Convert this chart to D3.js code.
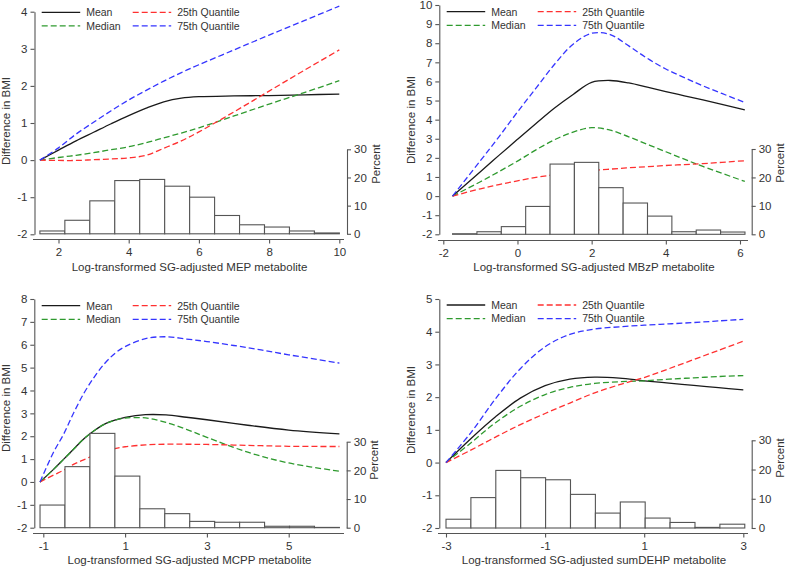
<!DOCTYPE html>
<html>
<head>
<meta charset="utf-8">
<script src="https://cdn.jsdelivr.net/npm/d3@7/dist/d3.min.js"></script>
<style>
  html, body { margin: 0; padding: 0; background: #fff; }
  svg { display: block; font-family: "Liberation Sans", Arial, sans-serif; }
</style>
</head>
<body>
<svg id="chart" width="800" height="577"></svg>
<script>
// ---------------- DATA ----------------
const seriesNames = ["Mean", "Median", "25th Quantile", "75th Quantile"];
const pctTicks = [0, 10, 20, 30];

// Panel A: MEP
const mepTitle = "Log-transformed SG-adjusted MEP metabolite";
const mepXTicks = [2, 4, 6, 8, 10];
const mepYTicks = [-2, -1, 0, 1, 2, 3, 4];
const mepX      = [1.47, 2, 2.5, 3, 3.5, 4, 4.5, 5, 5.5, 6, 7, 8, 9, 10];
const mepMean   = [0, 0.27, 0.52, 0.75, 0.98, 1.2, 1.4, 1.57, 1.67, 1.71, 1.73, 1.74, 1.76, 1.78];
const mepMedian = [0, 0.07, 0.13, 0.2, 0.28, 0.36, 0.47, 0.6, 0.73, 0.87, 1.19, 1.51, 1.82, 2.14];
const mepQ25    = [0, -0.01, -0.01, 0.01, 0.03, 0.06, 0.13, 0.32, 0.52, 0.76, 1.3, 1.86, 2.42, 2.97];
const mepQ75    = [0, 0.33, 0.7, 1.02, 1.33, 1.62, 1.88, 2.13, 2.36, 2.57, 2.97, 3.37, 3.76, 4.15];
const mepBinStart = 1.47, mepBinWidth = 0.711;
const mepPct    = [1, 4.8, 11.7, 18.9, 19.3, 16.9, 13, 6.5, 3.2, 2.4, 1, 0.3];

// Panel B: MBzP
const mbzpTitle = "Log-transformed SG-adjusted MBzP metabolite";
const mbzpXTicks = [-2, 0, 2, 4, 6];
const mbzpYTicks = [-2, -1, 0, 1, 2, 3, 4, 5, 6, 7, 8, 9, 10];
const mbzpX      = [-1.75, -1, -0.5, 0, 0.5, 1, 1.5, 2, 2.5, 3, 3.5, 4, 4.5, 5, 6.13];
const mbzpMean   = [0, 1.27, 2.13, 2.97, 3.8, 4.61, 5.32, 5.95, 6.05, 5.92, 5.7, 5.47, 5.25, 5.03, 4.51];
const mbzpMedian = [0, 0.75, 1.28, 1.83, 2.42, 2.95, 3.35, 3.58, 3.45, 3.1, 2.71, 2.32, 1.93, 1.55, 0.77];
const mbzpQ25    = [0, 0.38, 0.6, 0.8, 0.98, 1.12, 1.24, 1.33, 1.41, 1.48, 1.54, 1.6, 1.65, 1.7, 1.85];
const mbzpQ75    = [0, 1.85, 3.1, 4.4, 5.65, 6.9, 7.95, 8.52, 8.45, 7.86, 7.21, 6.65, 6.2, 5.77, 4.9];
const mbzpBinStart = -1.75, mbzpBinWidth = 0.657;
const mbzpPct    = [0.2, 0.9, 2.7, 9.8, 24.7, 25.3, 16.4, 11, 6.4, 0.9, 1.5, 0.8];

// Panel C: MCPP
const mcppTitle = "Log-transformed SG-adjusted MCPP metabolite";
const mcppXTicks = [-1, 1, 3, 5];
const mcppYTicks = [-2, -1, 0, 1, 2, 3, 4, 5, 6, 7, 8];
const mcppX      = [-1.08, -0.75, -0.5, -0.25, 0, 0.25, 0.5, 0.75, 1, 1.5, 2, 2.5, 3, 4, 5, 6.24];
const mcppMean   = [0, 0.55, 1.0, 1.45, 1.9, 2.25, 2.53, 2.7, 2.82, 2.94, 2.93, 2.83, 2.72, 2.48, 2.27, 2.1];
const mcppMedian = [0, 0.55, 1.0, 1.45, 1.9, 2.25, 2.53, 2.7, 2.79, 2.8, 2.6, 2.3, 1.95, 1.3, 0.83, 0.47];
const mcppQ25    = [0, 0.3, 0.52, 0.78, 0.98, 1.17, 1.33, 1.46, 1.54, 1.62, 1.65, 1.65, 1.64, 1.6, 1.56, 1.55];
const mcppQ75    = [0, 1.3, 2.1, 3.05, 3.9, 4.6, 5.18, 5.62, 5.92, 6.27, 6.35, 6.25, 6.14, 5.87, 5.56, 5.2];
const mcppBinStart = -1.08, mcppBinWidth = 0.61;
const mcppPct    = [7.9, 21.3, 32.9, 18, 6.6, 4.9, 2.2, 1.9, 1.9, 0.5, 0.5, 0.1];

// Panel D: sumDEHP
const dehpTitle = "Log-transformed SG-adjusted sumDEHP metabolite";
const dehpXTicks = [-3, -1, 1, 3];
const dehpYTicks = [-2, -1, 0, 1, 2, 3, 4, 5];
const dehpX      = [-3, -2.5, -2, -1.5, -1, -0.5, 0, 0.5, 1, 1.5, 2, 2.5, 3];
const dehpMean   = [0, 0.73, 1.4, 1.97, 2.35, 2.55, 2.61, 2.58, 2.5, 2.43, 2.36, 2.29, 2.22];
const dehpMedian = [0, 0.6, 1.22, 1.72, 2.08, 2.3, 2.42, 2.47, 2.5, 2.55, 2.59, 2.63, 2.66];
const dehpQ25    = [0, 0.38, 0.78, 1.16, 1.5, 1.82, 2.13, 2.38, 2.6, 2.87, 3.15, 3.43, 3.71];
const dehpQ75    = [0, 0.91, 1.95, 2.87, 3.54, 3.92, 4.08, 4.15, 4.2, 4.24, 4.28, 4.33, 4.38];
const dehpBinStart = -3, dehpBinWidth = 0.5025;
const dehpPct    = [3, 10.4, 19.7, 17.2, 16.5, 11.5, 5.1, 8.9, 3.4, 1.9, 0.2, 1.3];

// ---------------- STYLE / LAYOUT ----------------
const seriesStyle = [
  { color: "#1a1a1a", dash: null },
  { color: "#2f9a2f", dash: "6,3" },
  { color: "#ff3030", dash: "6,3" },
  { color: "#3535ff", dash: "6,3" }
];
const textColor = "#333";
const axisColor = "#555";

const panels = [
  { title: mepTitle, xTicks: mepXTicks, yTicks: mepYTicks, x: mepX,
    series: [mepMean, mepMedian, mepQ25, mepQ75], binStart: mepBinStart, binWidth: mepBinWidth, pct: mepPct,
    xd: [2, 10], xr: [58.5, 339.3], yd: [-2, 4], yr: [234.3, 11.7], pr: [233.8, 149.3],
    left: 34.5, right: 347, axisY: 239.5, axisX: [33, 344], yTitle: [10, 121], pctTitle: [380, 164],
    xTickY: 257, xTitleY: 271, leg: [41.7, 12.3] },
  { title: mbzpTitle, xTicks: mbzpXTicks, yTicks: mbzpYTicks, x: mbzpX,
    series: [mbzpMean, mbzpMedian, mbzpQ25, mbzpQ75], binStart: mbzpBinStart, binWidth: mbzpBinWidth, pct: mbzpPct,
    xd: [-2, 6], xr: [443.3, 740], yd: [-2, 10], yr: [234.3, 5], pr: [234.3, 149],
    left: 439.3, right: 751.7, axisY: 240.5, axisX: [438, 748], yTitle: [415, 120], pctTitle: [784, 163],
    xTickY: 257, xTitleY: 271, leg: [446.7, 11.7] },
  { title: mcppTitle, xTicks: mcppXTicks, yTicks: mcppYTicks, x: mcppX,
    series: [mcppMean, mcppMedian, mcppQ25, mcppQ75], binStart: mcppBinStart, binWidth: mcppBinWidth, pct: mcppPct,
    xd: [-1, 5], xr: [43.3, 288.7], yd: [-2, 8], yr: [527.7, 299], pr: [527.7, 441.7],
    left: 34.3, right: 346.7, axisY: 533.5, axisX: [33, 344], yTitle: [10, 408], pctTitle: [378, 460],
    xTickY: 546, xTitleY: 564, leg: [41.7, 305.7] },
  { title: dehpTitle, xTicks: dehpXTicks, yTicks: dehpYTicks, x: dehpX,
    series: [dehpMean, dehpMedian, dehpQ25, dehpQ75], binStart: dehpBinStart, binWidth: dehpBinWidth, pct: dehpPct,
    xd: [-3, 3], xr: [446, 743.3], yd: [-2, 5], yr: [528, 299], pr: [528, 440.3],
    left: 439.3, right: 751.7, axisY: 533.5, axisX: [438, 748], yTitle: [415, 410], pctTitle: [784, 458],
    xTickY: 546, xTitleY: 564, leg: [446.7, 305] }
];

const svg = d3.select("#chart");

panels.forEach(p => {
  const g = svg.append("g");
  const x = d3.scaleLinear().domain(p.xd).range(p.xr);
  const y = d3.scaleLinear().domain(p.yd).range(p.yr);
  const pc = d3.scaleLinear().domain([0, 30]).range(p.pr);

  // curves
  const line = d3.line().x(d => x(d[0])).y(d => y(d[1])).curve(d3.curveCatmullRom.alpha(0.5));
  p.series.forEach((vals, i) => {
    const pts = p.x.map((xv, k) => [xv, vals[k]]);
    g.append("path").attr("d", line(pts))
      .attr("fill", "none")
      .attr("stroke", seriesStyle[i].color)
      .attr("stroke-width", 1.3)
      .attr("stroke-dasharray", seriesStyle[i].dash);
  });

  // histogram (drawn on top, white fill)
  g.selectAll("rect.bar").data(p.pct).enter().append("rect")
    .attr("class", "bar")
    .attr("x", (d, i) => x(p.binStart + i * p.binWidth))
    .attr("width", (d, i) => x(p.binStart + (i + 1) * p.binWidth) - x(p.binStart + i * p.binWidth))
    .attr("y", d => pc(d))
    .attr("height", d => pc(0) - pc(d))
    .attr("fill", "#fff")
    .attr("stroke", "#555")
    .attr("stroke-width", 1.1);

  // left axis
  const ly = g.append("g").attr("transform", `translate(${p.left},0)`)
    .call(d3.axisLeft(y).tickValues(p.yTicks).tickFormat(d => String(d)).tickSize(4).tickSizeOuter(0).tickPadding(3));
  // right (percent) axis
  const ry = g.append("g").attr("transform", `translate(${p.right},0)`)
    .call(d3.axisRight(pc).tickValues(pctTicks).tickFormat(d => String(d)).tickSize(4).tickSizeOuter(0).tickPadding(3));
  // bottom axis
  const bx = g.append("g").attr("transform", `translate(0,${p.axisY})`)
    .call(d3.axisBottom(x).tickValues(p.xTicks).tickFormat(d => String(d)).tickSize(4).tickSizeOuter(0).tickPadding(4));
  bx.select(".domain").remove();
  g.append("line").attr("x1", p.axisX[0]).attr("x2", p.axisX[1])
    .attr("y1", p.axisY).attr("y2", p.axisY).attr("stroke", axisColor).attr("stroke-width", 1.1);

  [ly, ry, bx].forEach(a => {
    a.selectAll("path.domain").attr("stroke", axisColor).attr("stroke-width", 1.1);
    a.selectAll(".tick line").attr("stroke", axisColor).attr("stroke-width", 1.1);
    a.selectAll(".tick text").attr("fill", textColor)
      .style("font-family", '"Liberation Sans", Arial, sans-serif').style("font-size", "11.5px");
  });

  // titles
  g.append("text").attr("x", (p.axisX[0] + p.axisX[1]) / 2 + 1).attr("y", p.xTitleY)
    .attr("text-anchor", "middle").attr("fill", textColor).style("font-size", "11.5px").text(p.title);
  g.append("text").attr("transform", `translate(${p.yTitle[0]},${p.yTitle[1]}) rotate(-90)`)
    .attr("text-anchor", "middle").attr("fill", textColor).style("font-size", "11.5px").text("Difference in BMI");
  g.append("text").attr("transform", `translate(${p.pctTitle[0]},${p.pctTitle[1]}) rotate(-90)`)
    .attr("text-anchor", "middle").attr("fill", textColor).style("font-size", "11.5px").text("Percent");

  // legend
  const [lx, lyy] = p.leg;
  const legPos = [[0, 0], [0, 13.6], [91, 0], [91, 13.6]];
  seriesNames.forEach((name, i) => {
    const [dx, dy] = legPos[i];
    g.append("line").attr("x1", lx + dx).attr("x2", lx + dx + 38.5)
      .attr("y1", lyy + dy).attr("y2", lyy + dy)
      .attr("stroke", seriesStyle[i].color).attr("stroke-width", 1.3)
      .attr("stroke-dasharray", seriesStyle[i].dash);
    g.append("text").attr("x", lx + dx + 44.5).attr("y", lyy + dy + 3.8)
      .attr("fill", textColor).style("font-size", "10.5px").text(name);
  });
});
</script>
</body>
</html>
